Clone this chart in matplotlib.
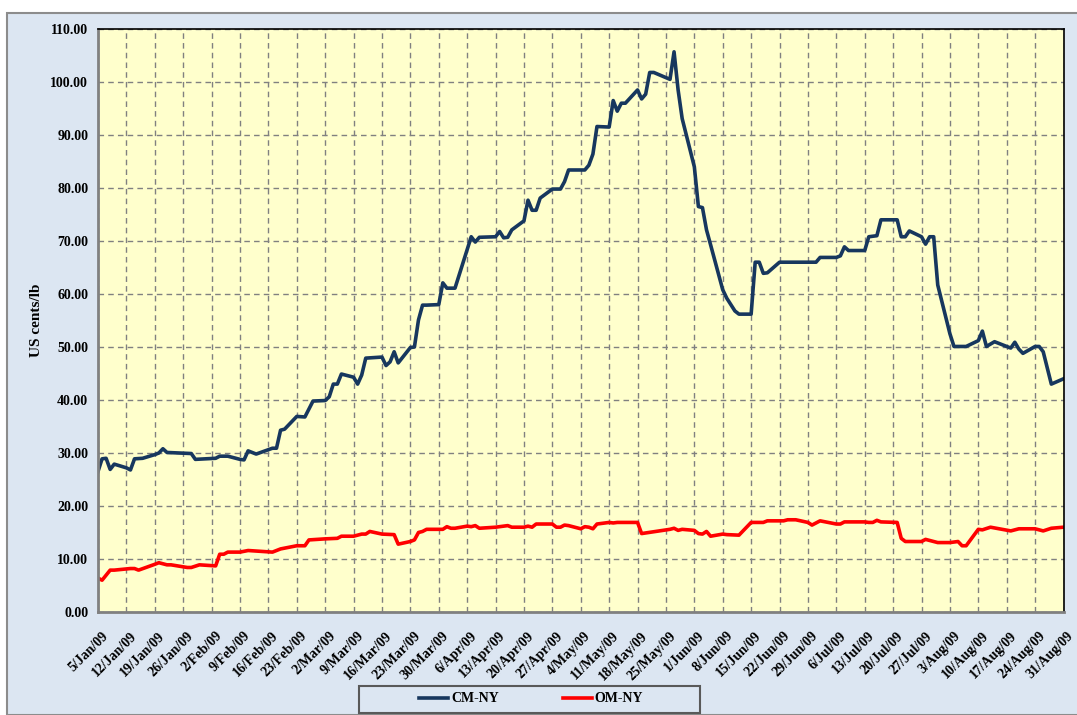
import matplotlib
matplotlib.use('Agg')
import matplotlib.pyplot as plt
import matplotlib.transforms as mtransforms
from matplotlib.patches import Rectangle
from matplotlib.ticker import FormatStrFormatter, MultipleLocator
import pandas as pd

plt.rcParams['font.family'] = ['Liberation Serif', 'DejaVu Serif']
plt.rcParams['font.weight'] = 'bold'

# CM-NY (US cents/lb), vertices
cm_dates = ['2009-01-05', '2009-01-06', '2009-01-07', '2009-01-08', '2009-01-09',
            '2009-01-12', '2009-01-13', '2009-01-14', '2009-01-16', '2009-01-19',
            '2009-01-20', '2009-01-21', '2009-01-22', '2009-01-28', '2009-01-29',
            '2009-02-03', '2009-02-04', '2009-02-06', '2009-02-09', '2009-02-10',
            '2009-02-11', '2009-02-13', '2009-02-17', '2009-02-18', '2009-02-19',
            '2009-02-20', '2009-02-23', '2009-02-25', '2009-02-27', '2009-03-02',
            '2009-03-03', '2009-03-04', '2009-03-05', '2009-03-06', '2009-03-09',
            '2009-03-10', '2009-03-11', '2009-03-12', '2009-03-16', '2009-03-17',
            '2009-03-18', '2009-03-19', '2009-03-20', '2009-03-23', '2009-03-24',
            '2009-03-25', '2009-03-26', '2009-03-27', '2009-03-30', '2009-03-31',
            '2009-04-01', '2009-04-03', '2009-04-06', '2009-04-07', '2009-04-08',
            '2009-04-09', '2009-04-13', '2009-04-14', '2009-04-15', '2009-04-16',
            '2009-04-17', '2009-04-20', '2009-04-21', '2009-04-22', '2009-04-23',
            '2009-04-24', '2009-04-27', '2009-04-29', '2009-04-30', '2009-05-01',
            '2009-05-05', '2009-05-06', '2009-05-07', '2009-05-08', '2009-05-11',
            '2009-05-12', '2009-05-13', '2009-05-14', '2009-05-15', '2009-05-18',
            '2009-05-19', '2009-05-20', '2009-05-21', '2009-05-22', '2009-05-26',
            '2009-05-27', '2009-05-28', '2009-05-29', '2009-06-01', '2009-06-02',
            '2009-06-03', '2009-06-04', '2009-06-05', '2009-06-08', '2009-06-09',
            '2009-06-10', '2009-06-11', '2009-06-12', '2009-06-15', '2009-06-16',
            '2009-06-17', '2009-06-18', '2009-06-19', '2009-06-22', '2009-07-01',
            '2009-07-02', '2009-07-06', '2009-07-07', '2009-07-08', '2009-07-09',
            '2009-07-13', '2009-07-14', '2009-07-16', '2009-07-17', '2009-07-21',
            '2009-07-22', '2009-07-23', '2009-07-24', '2009-07-27', '2009-07-28',
            '2009-07-29', '2009-07-30', '2009-07-31', '2009-08-03', '2009-08-04',
            '2009-08-07', '2009-08-10', '2009-08-11', '2009-08-12', '2009-08-14',
            '2009-08-18', '2009-08-19', '2009-08-20', '2009-08-21', '2009-08-24',
            '2009-08-25', '2009-08-26', '2009-08-28', '2009-08-31']
cm_values = [26.5, 28.9, 29.0, 26.9, 27.9,
             27.2, 26.8, 28.9, 29.0, 29.7,
             30.0, 30.8, 30.1, 29.9, 28.8,
             29.0, 29.4, 29.4, 28.8, 28.7,
             30.4, 29.8, 30.9, 30.9, 34.3,
             34.5, 36.9, 36.8, 39.8, 39.9,
             40.6, 43.0, 43.0, 44.9, 44.3,
             43.0, 44.7, 47.9, 48.1, 46.5,
             47.2, 49.1, 47.0, 49.9, 50.0,
             55.1, 57.9, 57.9, 58.0, 62.1,
             61.1, 61.1, 68.4, 70.8, 69.8,
             70.7, 70.8, 71.8, 70.6, 70.7,
             72.1, 73.8, 77.7, 75.8, 75.8,
             78.1, 79.8, 79.8, 81.2, 83.4,
             83.4, 84.3, 86.4, 91.6, 91.5,
             96.5, 94.5, 96.0, 96.0, 98.5,
             96.8, 97.7, 101.8, 101.8, 100.5,
             105.7, 98.5, 93.1, 84.0, 76.5,
             76.3, 72.1, 69.3, 60.8, 59.2,
             58.0, 56.8, 56.2, 56.2, 66.0,
             66.0, 63.9, 64.0, 66.0, 66.0,
             66.9, 66.9, 67.2, 68.9, 68.2,
             68.2, 70.8, 71.0, 74.0, 74.0,
             70.8, 70.8, 71.9, 70.8, 69.4,
             70.8, 70.8, 61.7, 52.5, 50.1,
             50.1, 51.2, 53.0, 50.1, 51.0,
             49.8, 50.9, 49.6, 48.8, 50.1,
             50.1, 49.1, 43.0, 44.0]

# OM-NY (US cents/lb)
om_dates = ['2009-01-05', '2009-01-06', '2009-01-08', '2009-01-09', '2009-01-13',
            '2009-01-14', '2009-01-15', '2009-01-19', '2009-01-20', '2009-01-22',
            '2009-01-23', '2009-01-27', '2009-01-28', '2009-01-30', '2009-02-03',
            '2009-02-04', '2009-02-05', '2009-02-06', '2009-02-09', '2009-02-11',
            '2009-02-17', '2009-02-19', '2009-02-23', '2009-02-25', '2009-02-26',
            '2009-03-02', '2009-03-05', '2009-03-06', '2009-03-09', '2009-03-11',
            '2009-03-12', '2009-03-13', '2009-03-16', '2009-03-19', '2009-03-20',
            '2009-03-23', '2009-03-24', '2009-03-25', '2009-03-26', '2009-03-27',
            '2009-03-31', '2009-04-01', '2009-04-02', '2009-04-03', '2009-04-06',
            '2009-04-07', '2009-04-08', '2009-04-09', '2009-04-13', '2009-04-16',
            '2009-04-17', '2009-04-20', '2009-04-21', '2009-04-22', '2009-04-23',
            '2009-04-27', '2009-04-28', '2009-04-29', '2009-04-30', '2009-05-01',
            '2009-05-04', '2009-05-05', '2009-05-06', '2009-05-07', '2009-05-08',
            '2009-05-11', '2009-05-12', '2009-05-13', '2009-05-18', '2009-05-19',
            '2009-05-26', '2009-05-27', '2009-05-28', '2009-05-29', '2009-06-01',
            '2009-06-02', '2009-06-03', '2009-06-04', '2009-06-05', '2009-06-08',
            '2009-06-09', '2009-06-12', '2009-06-15', '2009-06-18', '2009-06-19',
            '2009-06-23', '2009-06-24', '2009-06-26', '2009-06-29', '2009-06-30',
            '2009-07-02', '2009-07-06', '2009-07-07', '2009-07-08', '2009-07-13',
            '2009-07-14', '2009-07-15', '2009-07-16', '2009-07-17', '2009-07-21',
            '2009-07-22', '2009-07-23', '2009-07-27', '2009-07-28', '2009-07-31',
            '2009-08-03', '2009-08-05', '2009-08-06', '2009-08-07', '2009-08-10',
            '2009-08-11', '2009-08-13', '2009-08-18', '2009-08-20', '2009-08-24',
            '2009-08-26', '2009-08-28', '2009-08-31']
om_values = [6.4, 6.0, 7.9, 7.9, 8.2,
             8.2, 7.9, 9.0, 9.3, 8.9,
             8.9, 8.4, 8.4, 8.9, 8.7,
             10.9, 10.9, 11.3, 11.3, 11.6,
             11.3, 11.9, 12.5, 12.5, 13.6,
             13.8, 13.9, 14.3, 14.3, 14.7,
             14.7, 15.2, 14.7, 14.6, 12.8,
             13.3, 13.6, 15.0, 15.2, 15.6,
             15.6, 16.1, 15.8, 15.8, 16.2,
             16.1, 16.3, 15.8, 16.0, 16.3,
             16.0, 16.0, 16.2, 16.0, 16.6,
             16.6, 16.0, 16.0, 16.4, 16.3,
             15.7, 16.1, 16.0, 15.7, 16.6,
             16.9, 16.8, 16.9, 16.9, 14.8,
             15.6, 15.8, 15.4, 15.6, 15.4,
             14.8, 14.7, 15.2, 14.3, 14.7,
             14.6, 14.5, 16.9, 16.9, 17.2,
             17.2, 17.4, 17.4, 16.9, 16.4,
             17.2, 16.6, 16.6, 17.0, 17.0,
             16.9, 16.9, 17.3, 17.0, 16.9,
             13.9, 13.3, 13.3, 13.7, 13.1,
             13.1, 13.3, 12.5, 12.5, 15.6,
             15.5, 16.0, 15.3, 15.7, 15.7,
             15.3, 15.8, 16.0]

start, end = pd.Timestamp('2009-01-05'), pd.Timestamp('2009-08-31')
week_ticks = pd.date_range(start, end, freq='7D')
tick_labels = [f"{d.day}/{d.strftime('%b')}/09" for d in week_ticks]

BOX_BG = '#DCE6F2'

fig = plt.figure(figsize=(10.77, 7.15), dpi=100)
fig.patches.append(Rectangle((7 / 1077, 0), 1.0, 1 - 13 / 715, transform=fig.transFigure,
                             facecolor=BOX_BG, edgecolor='#8c8c8c', linewidth=1.5, zorder=-10))

ax = fig.add_axes([98 / 1077, 1 - 612 / 715, (1063.5 - 98) / 1077, (612 - 29) / 715])
ax.set_facecolor('#FFFFCC')

ax.plot(pd.to_datetime(cm_dates), cm_values, color='#17375E', linewidth=2.6, label='CM-NY',
        solid_joinstyle='round')
ax.plot(pd.to_datetime(om_dates), om_values, color='#FF0000', linewidth=2.6, label='OM-NY',
        solid_joinstyle='round')

ax.set_xlim(start, end)
ax.set_ylim(0, 110)
ax.yaxis.set_major_locator(MultipleLocator(10))
ax.yaxis.set_major_formatter(FormatStrFormatter('%.2f'))
ax.set_xticks(week_ticks)
ax.set_xticklabels(tick_labels, rotation=45, ha='right', va='top', rotation_mode='anchor',
                   fontsize=10, fontweight='bold')
ax.tick_params(axis='x', length=0, pad=12.5)
ax.tick_params(axis='y', length=0, pad=7, labelsize=10)
for lbl in ax.get_yticklabels():
    lbl.set_fontweight('bold')
# nudge date labels slightly to the right of their gridlines
shift = mtransforms.ScaledTranslation(2.5 / 72, 0, fig.dpi_scale_trans)
for lbl in ax.get_xticklabels():
    lbl.set_transform(lbl.get_transform() + shift)

ax.grid(True, color='#808080', linestyle=(0, (4, 3)), linewidth=1)
ax.set_axisbelow(True)

for side in ['left', 'bottom']:
    ax.spines[side].set_color('#808080')
    ax.spines[side].set_linewidth(2)
for side in ['top', 'right']:
    ax.spines[side].set_color('black')
    ax.spines[side].set_linewidth(1.2)

ax.set_ylabel('US cents/lb', fontsize=11, fontweight='bold')
ax.yaxis.set_label_coords(-0.057, 0.5)

# legend frame drawn separately so it can be wider than its entries
fig.patches.append(Rectangle((359 / 1077, 1 - 712.7 / 715), 341 / 1077, 27 / 715,
                             transform=fig.transFigure, facecolor=BOX_BG,
                             edgecolor='#595959', linewidth=1.5, zorder=1))
fig.legend(loc='center', bbox_to_anchor=(531 / 1077, 1 - 699 / 715), ncol=2, frameon=False,
           handlelength=2.1, handletextpad=0.2, columnspacing=4.6,
           prop={'family': 'Liberation Serif', 'weight': 'bold', 'size': 10})

fig.savefig('out.png', dpi=100)
